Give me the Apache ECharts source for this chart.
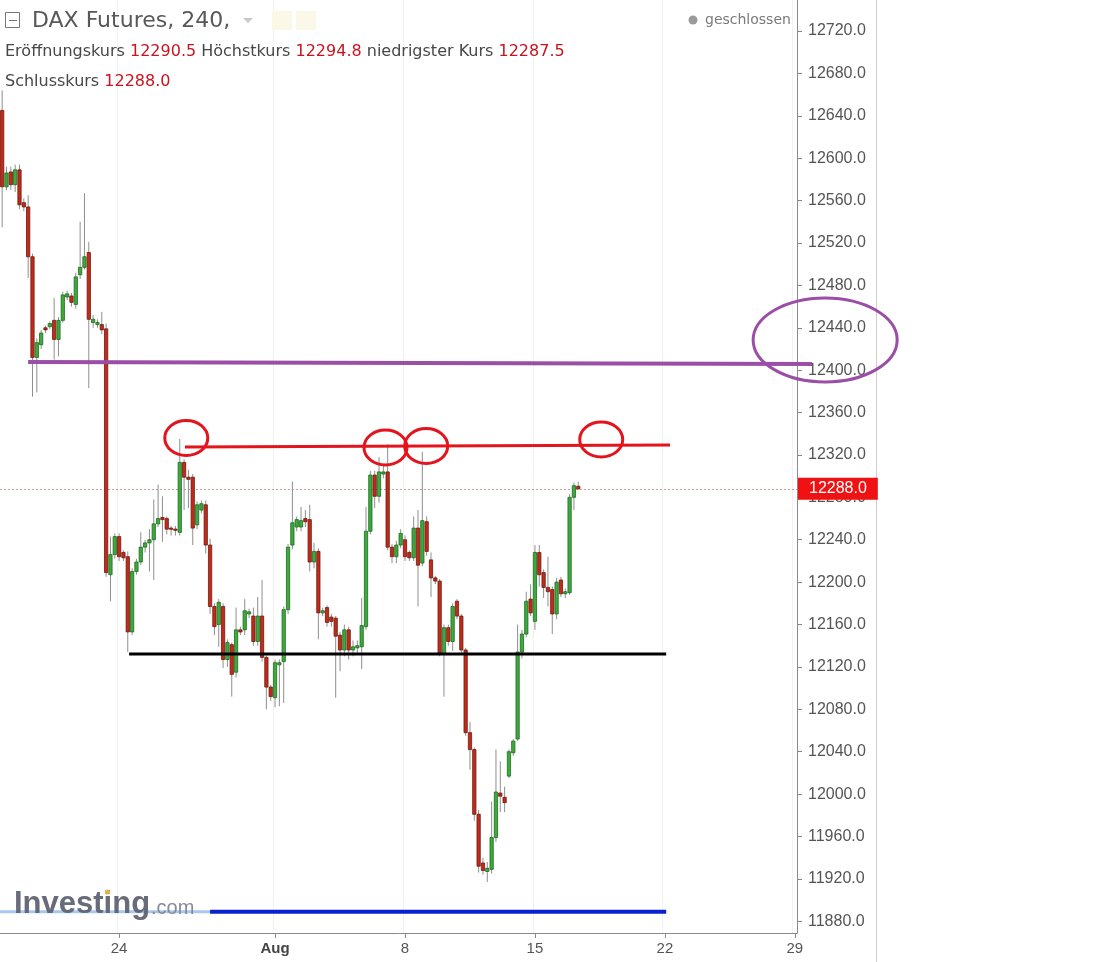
<!DOCTYPE html>
<html>
<head>
<meta charset="utf-8">
<script src="https://cdn.jsdelivr.net/npm/echarts@6/dist/echarts.min.js"></script>
<style>
html,body{margin:0;padding:0;background:#fff;}
#main{width:1111px;height:962px;}
</style>
</head>
<body>
<div id="main"></div>
<script>
// ---- data ----
const tradingDays = ["07-17","07-18","07-19","07-20","07-21","07-24","07-25","07-26","07-27","07-28","07-31",
  "08-01","08-02","08-03","08-04","08-07","08-08","08-09","08-10","08-11","08-14","08-15","08-16","08-17","08-18",
  "08-21","08-22","08-23","08-24","08-25","08-28","08-29"];
const hours = ["00","04","08","12","16","20"];
const firstSlot = 3;      // first visible 4h slot
const slotCount = 184;    // visible slots on the axis

// [open, close, low, high] per 4h candle
const candles = [
[12645,12573,12535,12664],[12573,12586,12570,12592],[12587,12575,12570,12592],[12575,12589,12568,12594],
[12589,12556,12552,12594],[12558,12554,12550,12562],[12554,12507,12487,12565],[12507,12412,12375,12510],
[12412,12426,12379,12430],[12424,12435,12420,12438],[12440,12438,12435,12442],[12441,12444,12439,12446],
[12447,12429,12410,12468],[12429,12447,12413,12450],[12447,12471,12445,12474],[12469,12472,12466,12475],
[12470,12464,12460,12473],[12462,12488,12458,12492],[12490,12497,12486,12540],[12497,12507,12495,12567],
[12511,12448,12383,12521],[12445,12448,12440,12452],[12443,12445,12440,12448],[12443,12438,12434,12455],
[12439,12209,12205,12444],[12207,12226,12182,12243],[12226,12243,12222,12246],[12243,12224,12220,12246],
[12228,12223,12220,12230],[12224,12153,12134,12229],[12153,12210,12150,12213],[12210,12219,12207,12222],
[12219,12233,12216,12247],[12233,12237,12228,12240],[12237,12240,12210,12250],[12240,12255,12202,12278],
[12255,12260,12252,12292],[12261,12259,12238,12281],[12260,12250,12245,12262],[12251,12250,12244,12253],
[12250,12249,12244,12253],[12247,12313,12244,12335],[12313,12299,12268,12316],[12299,12297,12270,12306],
[12299,12251,12235,12302],[12254,12273,12250,12276],[12268,12274,12265,12277],[12273,12235,12227,12277],
[12235,12177,12170,12241],[12177,12158,12150,12180],[12160,12181,12139,12184],[12177,12127,12119,12180],
[12127,12143,12120,12146],[12141,12113,12092,12143],[12115,12155,12110,12176],[12155,12153,12150,12158],
[12155,12173,12150,12184],[12170,12172,12166,12175],[12168,12144,12140,12176],[12144,12168,12140,12186],
[12168,12129,12125,12202],[12129,12101,12080,12131],[12101,12092,12088,12103],[12091,12124,12082,12127],
[12122,12124,12083,12127],[12125,12174,12086,12177],[12174,12233,12170,12236],[12235,12256,12231,12295],
[12252,12259,12248,12262],[12252,12258,12248,12271],[12260,12257,12252,12268],[12259,12219,12210,12273],
[12219,12229,12213,12237],[12229,12171,12146,12232],[12171,12173,12168,12176],[12176,12162,12158,12178],
[12167,12163,12158,12170],[12166,12149,12091,12168],[12150,12136,12116,12153],[12136,12155,12130,12160],
[12155,12136,12127,12158],[12136,12139,12130,12145],[12138,12140,12132,12145],[12139,12159,12118,12185],
[12158,12248,12155,12271],[12248,12301,12245,12305],[12301,12281,12270,12305],[12281,12304,12275,12318],
[12302,12304,12298,12310],[12304,12233,12230,12330],[12233,12224,12218,12236],[12224,12235,12218,12239],
[12235,12246,12232,12250],[12240,12224,12220,12244],[12228,12223,12220,12230],[12223,12251,12220,12262],
[12251,12216,12177,12268],[12218,12258,12215,12323],[12257,12229,12225,12262],[12221,12204,12186,12228],
[12204,12201,12198,12206],[12201,12132,12130,12203],[12132,12157,12092,12160],[12157,12144,12140,12160],
[12144,12177,12135,12180],[12182,12168,12165,12184],[12168,12136,12132,12170],[12136,12058,12055,12138],
[12058,12042,12023,12068],[12042,11981,11975,12044],[11981,11932,11926,11985],[11935,11928,11924,11940],
[11927,11930,11917,11936],[11929,11959,11925,11993],[11959,12002,11955,12042],[12001,11998,11983,12031],
[11997,11992,11983,12007],[12017,12040,12015,12042],[12039,12050,12036,12052],[12052,12134,12050,12160],
[12134,12151,12128,12155],[12151,12182,12148,12191],[12184,12171,12168,12198],[12163,12228,12155,12235],
[12228,12207,12196,12235],[12209,12195,12185,12212],[12195,12191,12177,12224],[12193,12170,12151,12196],
[12170,12200,12165,12204],[12202,12189,12186,12205],[12189,12191,12185,12194],[12190,12280,12188,12283],
[12280,12291,12268,12294],[12290.5,12288.0,12287.5,12294.8]
];

// x tick labels (first slot of the day)
const xTickLabels = {"07-24 00":"24","08-01 00":"Aug","08-08 00":"8","08-15 00":"15","08-22 00":"22","08-29 00":"29"};
// y tick labels
const yTicks = [11880,11920,11960,12000,12040,12080,12120,12160,12200,12240,12280,12320,12360,12400,12440,12480,12520,12560,12600,12640,12680,12720];
const yMin = 11868.96, yMax = 12749.25;

// hand-drawn annotations [slotIndex, price]
const purpleLine = [[6, 12407.7], [187, 12405.9]];
const purpleEllipse = [190, 12428.5];
const redLine = [[42.2, 12327.5], [154.2, 12329.4]];
const redEllipses = [[42.5, 12336], [88.5, 12327], [97.9, 12328.5], [138.3, 12334.6]];
const blackLine = [[29.3, 12132.3], [153.3, 12132.3]];
const blueLine = [[48, 11889], [153.3, 11889]];
const blueLineFaint = [[-0.5, 11889], [48, 11889]];

// ---- build ----
const allSlots = [];
tradingDays.forEach(d => hours.forEach(h => allSlots.push(d + " " + h)));
const categories = allSlots.slice(firstSlot, firstSlot + slotCount);
const tickSet = new Set(Object.keys(xTickLabels));
const isTick = (i) => tickSet.has(categories[i]);
const last = candles[candles.length - 1];

const chart = echarts.init(document.getElementById('main'));

function renderCandle(params, api) {
  const i = api.value(0);
  const o = api.value(1), c = api.value(2), l = api.value(3), h = api.value(4);
  const pO = api.coord([i, o]), pC = api.coord([i, c]);
  const pL = api.coord([i, l]), pH = api.coord([i, h]);
  const bw = api.size([1, 0])[0] * 0.76;
  const up = c >= o;
  const top = Math.min(pO[1], pC[1]);
  const hgt = Math.max(1.2, Math.abs(pO[1] - pC[1]));
  return {
    type: 'group',
    children: [
      {type: 'line', shape: {x1: pL[0], y1: pL[1], x2: pH[0], y2: pH[1]}, style: {stroke: '#8e8e8e', lineWidth: 1}},
      {type: 'rect', shape: {x: pO[0] - bw / 2, y: top, width: bw, height: hgt},
       style: {fill: up ? '#3daa3d' : '#c42a1a', stroke: up ? '#1e6a1e' : '#6a1a0e', lineWidth: 0.8}}
    ]
  };
}

const option = {
  animation: false,
  backgroundColor: '#ffffff',
  grid: {left: 0, right: 314, top: 0, bottom: 29, containLabel: false},
  xAxis: {
    type: 'category',
    data: categories,
    boundaryGap: true,
    axisLine: {lineStyle: {color: '#8a8a8a', width: 1}},
    axisTick: {show: true, alignWithLabel: true, length: 5, interval: (i) => isTick(i), lineStyle: {color: '#8a8a8a'}},
    axisLabel: {
      interval: (i) => isTick(i),
      formatter: (v) => xTickLabels[v] === 'Aug' ? '{b|Aug}' : (xTickLabels[v] || ''),
      color: '#555', fontSize: 15, fontFamily: 'Liberation Sans', margin: 8,
      rich: {b: {fontWeight: 'bold', color: '#444', fontSize: 15, fontFamily: 'Liberation Sans'}}
    },
    splitLine: {show: true, interval: (i) => isTick(i), lineStyle: {color: '#f1f1f1'}}
  },
  yAxis: {
    type: 'value',
    position: 'right',
    min: yMin, max: yMax,
    scale: true,
    axisLine: {show: true, lineStyle: {color: '#8a8a8a'}},
    axisTick: {show: true, length: 5, customValues: yTicks, lineStyle: {color: '#8a8a8a'}},
    axisLabel: {customValues: yTicks, formatter: (v) => Number(v).toFixed(1), color: '#555', fontSize: 16,
      fontFamily: 'Liberation Sans', margin: 11},
    splitLine: {show: false}
  },
  series: [{
    type: 'custom',
    renderItem: renderCandle,
    dimensions: ['i', 'open', 'close', 'low', 'high'],
    encode: {x: 0, y: [1, 2, 3, 4]},
    data: candles.map((c, i) => [i, c[0], c[1], c[2], c[3]]),
    z: 5,
    markLine: {
      silent: true, symbol: 'none', animation: false,
      data: [{yAxis: last[1]}],
      lineStyle: {type: [2, 2], color: '#d49a9a', width: 1},
      label: {show: true, position: 'end', formatter: (p) => Number(p.value).toFixed(1),
        color: '#fff', backgroundColor: '#f01212', padding: [3, 11, 3, 11], fontSize: 16,
        fontFamily: 'Liberation Sans', distance: 1}
    }
  }]
};
chart.setOption(option);

// pixel helpers through the chart's scales
const x0 = chart.convertToPixel({xAxisIndex: 0}, 0);
const x100 = chart.convertToPixel({xAxisIndex: 0}, 100);
function px(idx, val) {
  return [x0 + (x100 - x0) * idx / 100, chart.convertToPixel({yAxisIndex: 0}, val)];
}
function seg(points, color, width) {
  const a = px(points[0][0], points[0][1]), b = px(points[1][0], points[1][1]);
  return {type: 'line', z: 100, shape: {x1: a[0], y1: a[1], x2: b[0], y2: b[1]}, style: {stroke: color, lineWidth: width}};
}
function ell(p, rx, ry, color, width) {
  const c = px(p[0], p[1]);
  return {type: 'ellipse', z: 100, shape: {cx: c[0], cy: c[1], rx: rx, ry: ry}, style: {fill: 'none', stroke: color, lineWidth: width}};
}

const hdr = {fontFamily: 'DejaVu Sans', fontSize: 16};
const graphics = [
  // right panel border
  {type: 'line', z: 1, shape: {x1: 876.5, y1: 0, x2: 876.5, y2: 962}, style: {stroke: '#cfcfcf', lineWidth: 1}},
  // annotations
  seg(blueLineFaint, '#a9c6ee', 3),
  seg(purpleLine, '#9b4ea6', 4),
  ell(purpleEllipse, 72, 42, '#9b4ea6', 3),
  seg(redLine, '#e3141b', 3),
  ...redEllipses.map(p => ell(p, 21.5, 17.5, '#e3141b', 3)),
  seg(blackLine, '#000000', 3),
  seg(blueLine, '#0a1fcf', 4),
  // header
  {type: 'rect', z: 110, shape: {x: 5.5, y: 12.5, width: 14, height: 15}, style: {fill: '#fff', stroke: '#777', lineWidth: 1}},
  {type: 'line', z: 111, shape: {x1: 9, y1: 20.5, x2: 17, y2: 20.5}, style: {stroke: '#777', lineWidth: 1}},
  {type: 'text', z: 110, style: {x: 32, y: 21, text: 'DAX Futures, 240,', fill: '#585858', fontFamily: 'DejaVu Sans', fontSize: 22, verticalAlign: 'middle'}},
  {type: 'polygon', z: 110, shape: {points: [[243, 18], [253, 18], [248, 23]]}, style: {fill: '#c8c8c8'}},
  {type: 'rect', z: 110, shape: {x: 272, y: 11, width: 20, height: 19}, style: {fill: '#fbf8e8'}},
  {type: 'rect', z: 110, shape: {x: 296, y: 11, width: 20, height: 19}, style: {fill: '#fbf8e8'}},
  {type: 'text', z: 110, style: {x: 5, y: 52, verticalAlign: 'middle',
    text: '{l|Eröffnungskurs }{v|' + last[0].toFixed(1) + '}{l| Höchstkurs }{v|' + last[3].toFixed(1) + '}{l| niedrigster Kurs }{v|' + last[2].toFixed(1) + '}',
    rich: {l: Object.assign({fill: '#474747'}, hdr), v: Object.assign({fill: '#c8141e'}, hdr)}}},
  {type: 'text', z: 110, style: {x: 5, y: 82, verticalAlign: 'middle',
    text: '{l|Schlusskurs }{v|' + last[1].toFixed(1) + '}',
    rich: {l: Object.assign({fill: '#474747'}, hdr), v: Object.assign({fill: '#c8141e'}, hdr)}}},
  {type: 'circle', z: 110, shape: {cx: 693, cy: 20, r: 4.5}, style: {fill: '#9a9a9a'}},
  {type: 'text', z: 110, style: {x: 705, y: 20, text: 'geschlossen', fill: '#7a7a7a', fontFamily: 'DejaVu Sans', fontSize: 14, verticalAlign: 'middle'}},
  // watermark logo
  {type: 'text', z: 120, style: {x: 14, y: 920, text: 'Investing', fill: '#5f6373', fontFamily: 'Liberation Sans', fontWeight: 'bold', fontSize: 31, verticalAlign: 'bottom', opacity: 0.95}},
  {type: 'text', z: 120, style: {x: 151, y: 918, text: '.com', fill: '#858a98', fontFamily: 'Liberation Sans', fontSize: 20, verticalAlign: 'bottom'}},
  {type: 'circle', z: 121, shape: {cx: 107.5, cy: 892, r: 2.6}, style: {fill: '#e0b44a'}}
];
chart.setOption({graphic: graphics});
</script>
</body>
</html>
